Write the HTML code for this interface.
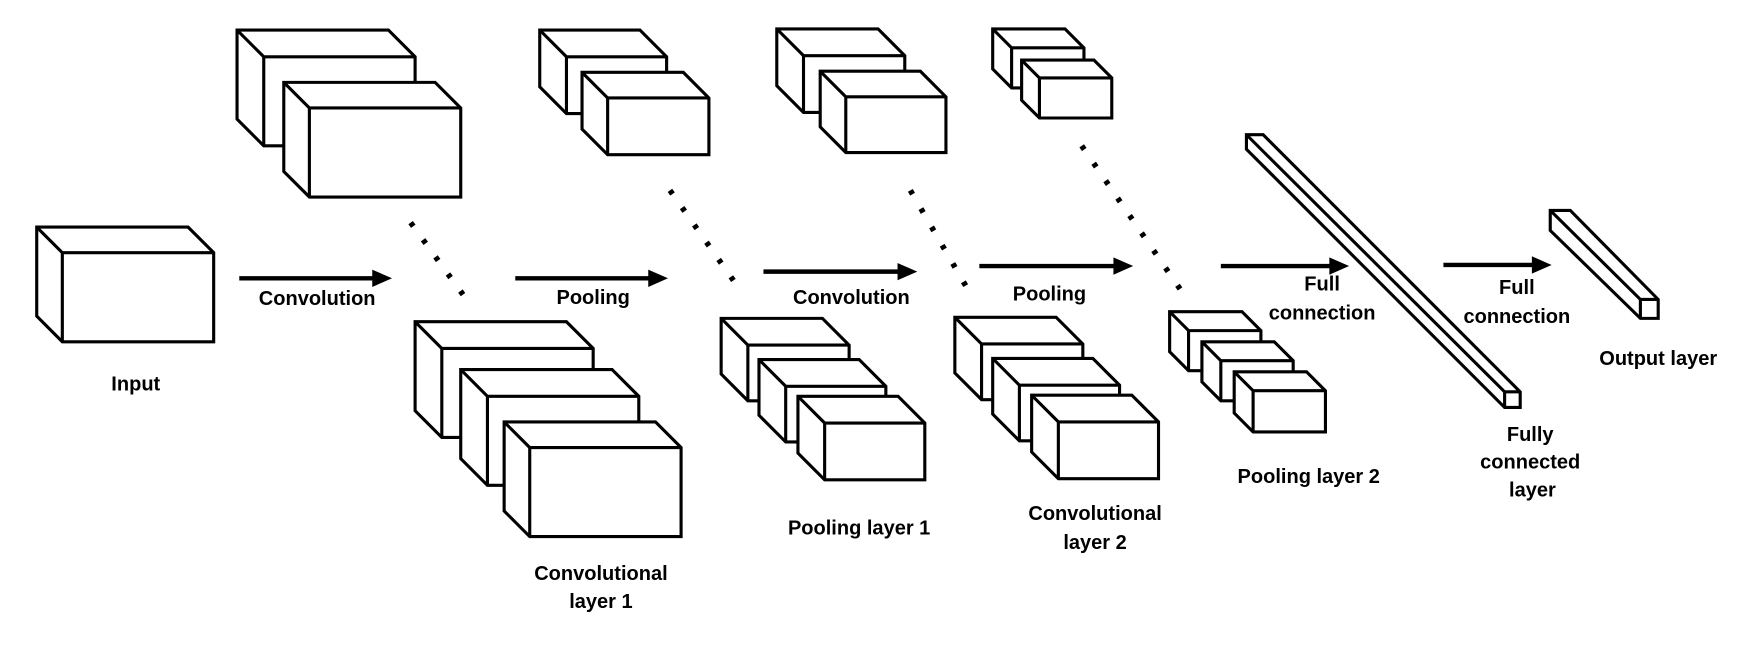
<!DOCTYPE html>
<html><head><meta charset="utf-8"><style>html,body{margin:0;padding:0;background:#fff}svg{display:block}</style></head><body>
<svg width="1745" height="649" viewBox="0 0 1568 583" preserveAspectRatio="none" xmlns="http://www.w3.org/2000/svg">
<g fill="#fff" stroke="#000" stroke-width="2.8">
<path d="M33,204 L169,204 L192,227 L192,307 L56,307 L33,284 Z"/><path fill="none" d="M33,204 L56,227 L192,227 M56,227 L56,307"/>
<path d="M213,27 L349,27 L373,51 L373,131 L237,131 L213,107 Z"/><path fill="none" d="M213,27 L237,51 L373,51 M237,51 L237,131"/>
<path d="M255,74 L391,74 L414,97 L414,177 L278,177 L255,154 Z"/><path fill="none" d="M255,74 L278,97 L414,97 M278,97 L278,177"/>
<path d="M485,27 L575,27 L599,51 L599,102 L509,102 L485,78 Z"/><path fill="none" d="M485,27 L509,51 L599,51 M509,51 L509,102"/>
<path d="M523,65 L614,65 L637,88 L637,139 L546,139 L523,116 Z"/><path fill="none" d="M523,65 L546,88 L637,88 M546,88 L546,139"/>
<path d="M698,26 L789,26 L813,50 L813,101 L722,101 L698,77 Z"/><path fill="none" d="M698,26 L722,50 L813,50 M722,50 L722,101"/>
<path d="M737,64 L827,64 L850,87 L850,137 L760,137 L737,114 Z"/><path fill="none" d="M737,64 L760,87 L850,87 M760,87 L760,137"/>
<path d="M892,26 L957,26 L974,43 L974,79 L909,79 L892,62 Z"/><path fill="none" d="M892,26 L909,43 L974,43 M909,43 L909,79"/>
<path d="M918,54 L983,54 L999,70 L999,106 L934,106 L918,90 Z"/><path fill="none" d="M918,54 L934,70 L999,70 M934,70 L934,106"/>
<path d="M373,289 L509,289 L533,313 L533,393 L397,393 L373,369 Z"/><path fill="none" d="M373,289 L397,313 L533,313 M397,313 L397,393"/>
<path d="M414,332 L550,332 L574,356 L574,436 L438,436 L414,412 Z"/><path fill="none" d="M414,332 L438,356 L574,356 M438,356 L438,436"/>
<path d="M453,379 L589,379 L612,402 L612,482 L476,482 L453,459 Z"/><path fill="none" d="M453,379 L476,402 L612,402 M476,402 L476,482"/>
<path d="M648,286 L739,286 L763,310 L763,360 L672,360 L648,336 Z"/><path fill="none" d="M648,286 L672,310 L763,310 M672,310 L672,360"/>
<path d="M682,323 L772,323 L796,347 L796,397 L706,397 L682,373 Z"/><path fill="none" d="M682,323 L706,347 L796,347 M706,347 L706,397"/>
<path d="M717,356 L807,356 L831,380 L831,431 L741,431 L717,407 Z"/><path fill="none" d="M717,356 L741,380 L831,380 M741,380 L741,431"/>
<path d="M858,285 L949,285 L973,309 L973,359 L882,359 L858,335 Z"/><path fill="none" d="M858,285 L882,309 L973,309 M882,309 L882,359"/>
<path d="M892,322 L982,322 L1006,346 L1006,396 L916,396 L892,372 Z"/><path fill="none" d="M892,322 L916,346 L1006,346 M916,346 L916,396"/>
<path d="M927,355 L1017,355 L1041,379 L1041,430 L951,430 L927,406 Z"/><path fill="none" d="M927,355 L951,379 L1041,379 M951,379 L951,430"/>
<path d="M1051,280 L1116,280 L1133,297 L1133,333 L1068,333 L1051,316 Z"/><path fill="none" d="M1051,280 L1068,297 L1133,297 M1068,297 L1068,333"/>
<path d="M1080,307 L1145,307 L1162,324 L1162,360 L1097,360 L1080,343 Z"/><path fill="none" d="M1080,307 L1097,324 L1162,324 M1097,324 L1097,360"/>
<path d="M1109,334 L1174,334 L1191,351 L1191,388 L1126,388 L1109,371 Z"/><path fill="none" d="M1109,334 L1126,351 L1191,351 M1126,351 L1126,388"/>
</g>
<g fill="none" stroke="#000" stroke-width="5" stroke-dasharray="4 15">
<line x1="369" y1="200" x2="417" y2="266"/>
<line x1="602" y1="171" x2="664" y2="259"/>
<line x1="818" y1="171" x2="872" y2="264"/>
<line x1="972" y1="131" x2="1062" y2="262"/>
</g>
<g stroke="#000" stroke-width="4">
<line x1="215" y1="250" x2="338" y2="250"/><path d="M335,243 L351,250 L335,257 Z" fill="#000" stroke-width="1"/>
<line x1="463" y1="250" x2="586" y2="250"/><path d="M583,243 L599,250 L583,257 Z" fill="#000" stroke-width="1"/>
<line x1="686" y1="244" x2="810" y2="244"/><path d="M807,237 L823,244 L807,251 Z" fill="#000" stroke-width="1"/>
<line x1="880" y1="239" x2="1004" y2="239"/><path d="M1001,232 L1017,239 L1001,246 Z" fill="#000" stroke-width="1"/>
<line x1="1097" y1="239" x2="1198" y2="239"/><path d="M1195,232 L1211,239 L1195,246 Z" fill="#000" stroke-width="1"/>
<line x1="1297" y1="238" x2="1380" y2="238"/><path d="M1377,231 L1393,238 L1377,245 Z" fill="#000" stroke-width="1"/>
</g>
<g fill="#fff" stroke="#000" stroke-width="2.8">
<path d="M1120,121 L1135,121 L1366,352 L1366,366 L1352,366 L1120,134 Z"/>
<path d="M1120,121 L1352,352 L1366,352 M1352,352 L1352,366" fill="none"/>
<path d="M1393,189 L1411,189 L1490,269 L1490,286 L1474,286 L1393,207 Z"/>
<path d="M1393,189 L1474,269 L1490,269 M1474,269 L1474,286" fill="none"/>
</g>
<g font-family="Liberation Sans, sans-serif" font-weight="bold" font-size="18" text-anchor="middle" fill="#000">
<text x="285" y="274">Convolution</text>
<text x="533" y="273">Pooling</text>
<text x="765" y="273">Convolution</text>
<text x="943" y="270">Pooling</text>
<text x="1188" y="261">Full</text><text x="1188" y="287">connection</text>
<text x="1363" y="264">Full</text><text x="1363" y="290">connection</text>
<text x="122" y="351">Input</text>
<text x="1490" y="328">Output layer</text>
<text x="540" y="521">Convolutional</text><text x="540" y="546">layer 1</text>
<text x="772" y="480">Pooling layer 1</text>
<text x="984" y="467">Convolutional</text><text x="984" y="493">layer 2</text>
<text x="1176" y="434">Pooling layer 2</text>
<text x="1375" y="396">Fully</text><text x="1375" y="421">connected</text><text x="1377" y="446">layer</text>
</g>
</svg>
</body></html>
